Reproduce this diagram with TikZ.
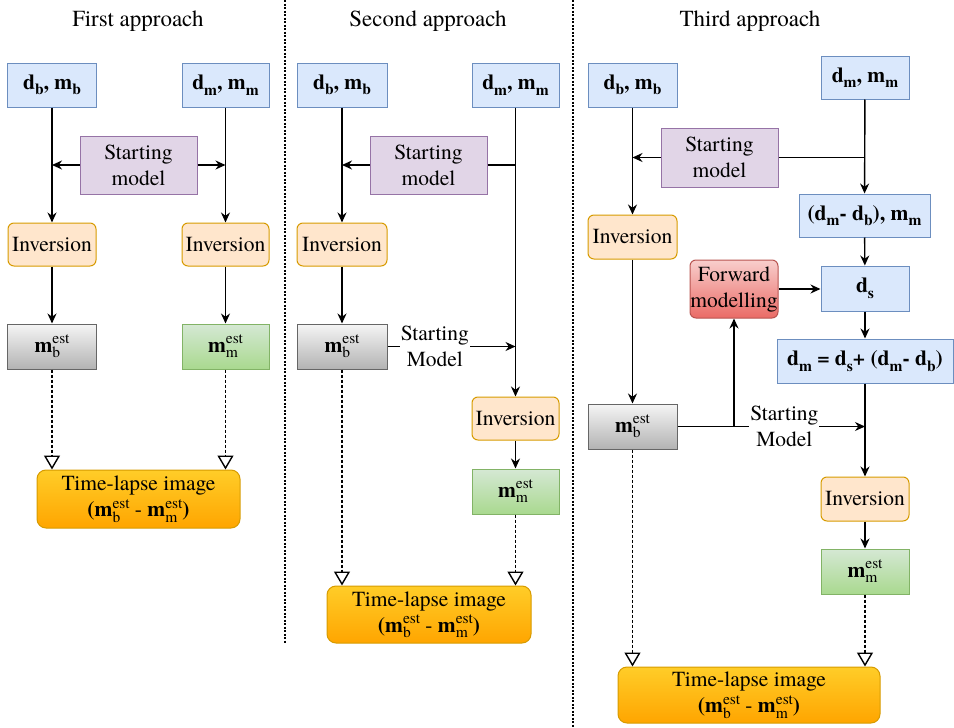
\documentclass[tikz,border=0pt]{standalone}
\usepackage{fontspec}
\setmainfont{texgyretermes}[Extension=.otf, UprightFont=*-regular, BoldFont=*-bold, ItalicFont=*-italic, BoldItalicFont=*-bolditalic]
\usetikzlibrary{arrows.meta,calc}
\definecolor{blueF}{HTML}{DAE8FC}
\definecolor{blueL}{HTML}{6C8EBF}
\definecolor{purpF}{HTML}{E1D5E7}
\definecolor{purpL}{HTML}{9673A6}
\definecolor{orF}{HTML}{FFE6CC}
\definecolor{orL}{HTML}{D79B00}
\definecolor{grayT}{HTML}{F5F5F5}
\definecolor{grayB}{HTML}{B3B3B3}
\definecolor{grayL}{HTML}{666666}
\definecolor{greenT}{HTML}{D5E8D4}
\definecolor{greenB}{HTML}{A9D98F}
\definecolor{greenL}{HTML}{82B366}
\definecolor{redT}{HTML}{F8CECC}
\definecolor{redB}{HTML}{EA6B66}
\definecolor{redL}{HTML}{B85450}
\definecolor{yelT}{HTML}{FFCD28}
\definecolor{yelB}{HTML}{FFA500}
\newcommand\sbs[1]{\raisebox{-5.5pt}{\fontsize{15.5}{16}\selectfont #1}}
\newcommand\sps[1]{\raisebox{8.5pt}{\fontsize{15.5}{16}\selectfont #1}}
\newcommand\mest[1]{\textbf{m}\rlap{\sbs{#1}}\sps{est}}
\begin{document}
\begin{tikzpicture}[x=1pt,y=-1pt,
  font=\fontsize{21.5}{26}\selectfont,
  sz/.style 2 args={minimum width=#1pt, minimum height=#2pt},
  base/.style={draw, line width=1pt, inner sep=0pt, align=center},
  bluebox/.style={base, fill=blueF, draw=blueL, font=\fontsize{21.5}{26}\selectfont\bfseries},
  purpbox/.style={base, fill=purpF, draw=purpL},
  invbox/.style={base, fill=orF, draw=orL, rounded corners=6pt},
  graybox/.style={base, top color=grayT, bottom color=grayB, draw=grayL},
  greenbox/.style={base, top color=greenT, bottom color=greenB, draw=greenL},
  redbox/.style={base, top color=redT, bottom color=redB, draw=redL, rounded corners=6pt},
  tlbox/.style={base, top color=yelT, bottom color=yelB, draw=orL, rounded corners=9pt},
  title/.style={inner sep=0pt, font=\fontsize{23}{27}\selectfont},
  arr/.style={line width=1.4pt, -{Stealth[length=10pt,width=9pt]}},
  ln/.style={line width=1.4pt},
  dotarr/.style={line width=1.6pt, dash pattern=on 3pt off 2pt, -{Triangle[open,length=14pt,width=16pt,line width=1.4pt]}},
  sepline/.style={line width=1.5pt, dash pattern=on 2pt off 1.5pt},
  lbl/.style={fill=white, inner sep=1pt, align=center}
]
\useasboundingbox (0,0) rectangle (954,728);

% separators
\draw[sepline] (285,0) -- (285,643);
\draw[sepline] (573,0) -- (573,728);

% titles
\node[title] (t1) at (138,21) {First approach};
\node[title] (t2) at (428,21) {Second approach};
\node[title] (t3) at (750,21) {Third approach};

% ---------- Panel 1 ----------
\node[bluebox, sz={89}{44}] (a1) at (52,85) {d\sbs{b}, m\sbs{b}};
\node[bluebox, sz={87}{44}] (b1) at (225.5,85) {d\sbs{m}, m\sbs{m}};
\node[purpbox, sz={117}{58}] (s1) at (138.5,165) {Starting\\model};
\node[invbox, sz={88}{43}] (i1a) at (52,244.5) {Inversion};
\node[invbox, sz={87}{43}] (i1b) at (225.5,244.5) {Inversion};
\node[graybox, sz={89}{45}] (e1a) at (52,346.5) {\mest{b}};
\node[greenbox, sz={87}{45}] (e1b) at (225.5,346.5) {\mest{m}};
\node[tlbox, sz={203}{58}] (T1) at (138.5,499) {Time-lapse image\\\textbf{(}\mest{b} - \mest{m}\textbf{)}};

\draw[arr] (a1) -- (i1a);
\draw[arr] (b1) -- (i1b);
\draw[arr] (s1.west) -- (s1.west -| a1);
\draw[arr] (s1.east) -- (s1.east -| b1);
\draw[arr] (i1a) -- (e1a);
\draw[arr] (i1b) -- (e1b);
\draw[dotarr] (e1a) -- (T1.north -| e1a);
\draw[dotarr] (e1b) -- (T1.north -| e1b);

% ---------- Panel 2 ----------
\node[bluebox, sz={90}{44}] (a2) at (342,85) {d\sbs{b}, m\sbs{b}};
\node[bluebox, sz={87}{44}] (b2) at (515.5,85) {d\sbs{m}, m\sbs{m}};
\node[purpbox, sz={117}{58}] (s2) at (428.5,165) {Starting\\model};
\node[invbox, sz={90}{43}] (i2a) at (342,244.5) {Inversion};
\node[graybox, sz={90}{45}] (e2a) at (342,346.5) {\mest{b}};
\node[invbox, sz={87}{43}] (i2b) at (515.5,418.5) {Inversion};
\node[greenbox, sz={87}{45}] (e2b) at (515.5,491.5) {\mest{m}};
\node[tlbox, sz={204}{57}] (T2) at (429,614.5) {Time-lapse image\\\textbf{(}\mest{b} - \mest{m}\textbf{)}};

\draw[arr] (a2) -- (i2a);
\draw[arr] (i2a) -- (e2a);
\draw[ln] (s2.east) -- (s2.east -| b2);
\draw[arr] (s2.west) -- (s2.west -| a2);
\draw[arr] (b2) -- (i2b);
\draw[arr] (e2a.east) -- node[lbl, pos=0.37] (l2) {Starting\\Model} (e2a.east -| b2);
\draw[arr] (i2b) -- (e2b);
\draw[dotarr] (e2a) -- (T2.north -| e2a);
\draw[dotarr] (e2b) -- (T2.north -| e2b);

% ---------- Panel 3 ----------
\node[bluebox, sz={89}{44}] (a3) at (632.5,85) {d\sbs{b}, m\sbs{b}};
\node[bluebox, sz={88}{43}] (b3) at (865,77.5) {d\sbs{m}, m\sbs{m}};
\node[purpbox, sz={117}{59}] (s3) at (719.5,157.5) {Starting\\model};
\node[bluebox, sz={131}{43}] (c3) at (864.5,215.5) {(d\sbs{m}- d\sbs{b}), m\sbs{m}};
\node[invbox, sz={89}{44}] (i3a) at (632.5,237) {Inversion};
\node[redbox, sz={88}{58}] (fw) at (734,289) {Forward\\modelling};
\node[bluebox, sz={88}{45}] (ds) at (865,288.5) {d\sbs{s}};
\node[bluebox, sz={176}{44}] (eq) at (865,361) {d\sbs{m} = d\sbs{s}+ (d\sbs{m}- d\sbs{b})};
\node[graybox, sz={89}{45}] (e3a) at (632.5,426.5) {\mest{b}};
\node[invbox, sz={88}{44}] (i3b) at (865,499) {Inversion};
\node[greenbox, sz={88}{45}] (e3b) at (865,571.5) {\mest{m}};
\node[tlbox, sz={262}{56}] (T3) at (749,695) {Time-lapse image\\\textbf{(}\mest{b} - \mest{m}\textbf{)}};

\draw[arr] (a3) -- (i3a);
\draw[arr] (i3a) -- (e3a);
\draw[arr] (s3.west) -- (s3.west -| a3);
\draw[ln] (s3.east) -- (s3.east -| b3);
\draw[arr] (b3) -- (c3);
\draw[arr] (c3) -- (ds);
\draw[arr] (fw.east) -- (fw.east -| ds.west);
\draw[arr] (ds) -- (eq);
\draw[arr] (eq) -- (i3b);
\draw[arr] (i3b) -- (e3b);
\coordinate (br) at (fw |- e3a.east);
\draw[arr] (e3a.east) -- node[lbl, pos=0.57] (l3) {Starting\\Model} (e3a.east -| eq);
\draw[arr] (br) -- (fw.south);
\draw[dotarr] (e3a) -- (T3.north -| e3a);
\draw[dotarr] (e3b) -- (T3.north -| e3b);
\end{tikzpicture}
\end{document}
